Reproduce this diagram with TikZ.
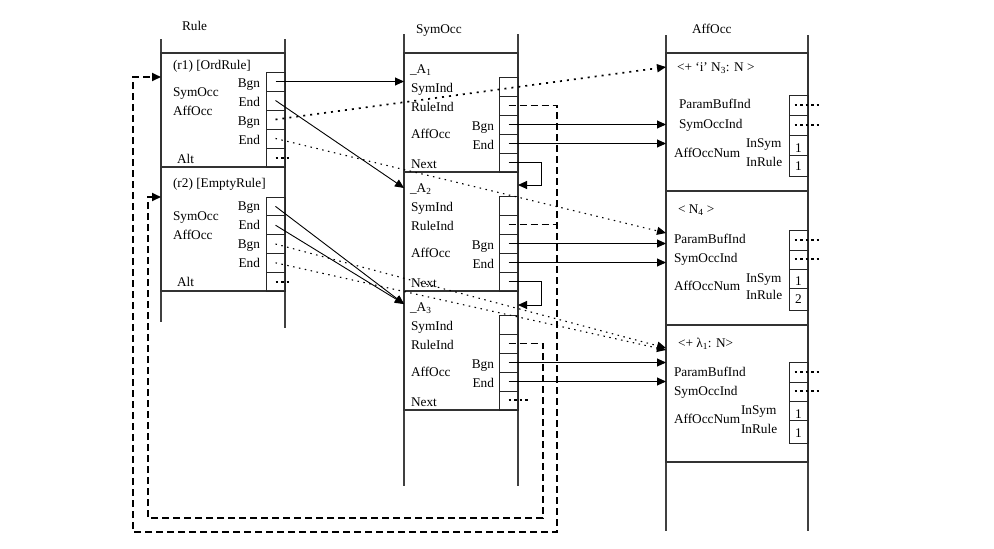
\documentclass[tikz,border=0pt]{standalone}
\usepackage{fontspec}
\setmainfont{Liberation Serif}
\usetikzlibrary{arrows.meta}
\begin{document}
\begin{tikzpicture}[x=1pt,y=-1pt,
  every node/.style={font=\fontsize{13.3}{15}\selectfont, inner sep=0pt, outer sep=0pt},
  txt/.style={anchor=base west},
  rtxt/.style={anchor=base east},
  num/.style={anchor=base},
  colline/.style={line width=1.1pt, draw=black!75},
  rec/.style={rectangle, draw=black!80, line width=1.1pt},
  fld/.style={rectangle, draw=black!85, line width=1pt, minimum width=19pt, minimum height=#1},
  tip/.style={-{Triangle[length=9pt,width=8pt]}},
  ptr/.style={tip, line width=0.9pt},
  hdot/.style={tip, line width=1.7pt, dash pattern=on 2pt off 5pt},
  fdot/.style={tip, line width=1.1pt, dash pattern=on 1.5pt off 4.5pt},
  rptr/.style={tip, line width=1.9pt, dash pattern=on 7pt off 4pt},
  tail/.style={line width=2pt, dash pattern=on 2.5pt off 3pt},
]
\useasboundingbox (0,0) rectangle (994,549);

% ---------- column titles and column lines ----------
\node[txt] (tRule) at (182,30) {Rule};
\node[txt] (tSym)  at (416,33) {SymOcc};
\node[txt] (tAff)  at (692,33) {AffOcc};

\draw[colline] (161,39) -- (161,322);
\draw[colline] (285,39) -- (285,328);
\draw[colline] (404,34) -- (404,486);
\draw[colline] (518,34) -- (518,486);
\draw[colline] (666,35) -- (666,531);
\draw[colline] (808,35) -- (808,531);

% ---------- records ----------
\node[rec, minimum width=124pt, minimum height=114pt] (r1) at (223,110) {};
\node[rec, minimum width=124pt, minimum height=124pt] (r2) at (223,229) {};
\node[rec, minimum width=114pt, minimum height=119pt] (A1) at (461,112.5) {};
\node[rec, minimum width=114pt, minimum height=119pt] (A2) at (461,231.5) {};
\node[rec, minimum width=114pt, minimum height=119pt] (A3) at (461,350.5) {};
\node[rec, minimum width=142pt, minimum height=138pt] (P1) at (737,122) {};
\node[rec, minimum width=142pt, minimum height=134pt] (P2) at (737,258) {};
\node[rec, minimum width=142pt, minimum height=137pt] (P3) at (737,393.5) {};

% ---------- Rule records ----------
\foreach \i/\y in {1/81.5,2/100.5,3/119.5,4/138.5,5/157.5}
  \node[fld=19pt] (r1f\i) at (275.5,\y) {};
\foreach \i/\y in {1/206.4,2/225.2,3/244,4/262.8,5/281.6}
  \node[fld=18.8pt] (r2f\i) at (275.5,\y) {};

\node[txt] (r1h) at (173,69) {(r1) [OrdRule]};
\node[txt] (r1s) at (173,96) {SymOcc};
\node[txt] (r1a) at (173,115) {AffOcc};
\node[rtxt] (r1l1) at (260,87) {Bgn};
\node[rtxt] (r1l2) at (260,106) {End};
\node[rtxt] (r1l3) at (260,125) {Bgn};
\node[rtxt] (r1l4) at (260,144) {End};
\node[txt] (r1alt) at (177,163) {Alt};

\node[txt] (r2h) at (173,187) {(r2) [EmptyRule]};
\node[txt] (r2s) at (173,220) {SymOcc};
\node[txt] (r2a) at (173,239) {AffOcc};
\node[rtxt] (r2l1) at (260,210) {Bgn};
\node[rtxt] (r2l2) at (260,229) {End};
\node[rtxt] (r2l3) at (260,248) {Bgn};
\node[rtxt] (r2l4) at (260,267) {End};
\node[txt] (r2alt) at (177,286) {Alt};

% ---------- SymOcc records ----------
\foreach \r/\o/\n in {a1/0/1, a2/119/2, a3/238/3} {
  \foreach \i/\y in {1/86.5,2/105.5,3/124.5,4/143.5,5/162.5}
    \node[fld=19pt] (\r f\i) at (508.5,\y+\o) {};
  \node[txt] (\r h)  at (410,73+\o) {\_A\textsubscript{\n}};
  \node[txt] (\r s)  at (411,92+\o) {SymInd};
  \node[txt] (\r r)  at (411,111+\o) {RuleInd};
  \node[txt] (\r a)  at (411,138+\o) {AffOcc};
  \node[rtxt] (\r b) at (494,130+\o) {Bgn};
  \node[rtxt] (\r e) at (494,149+\o) {End};
  \node[txt] (\r n)  at (411,168+\o) {Next};
}

% ---------- AffOcc records ----------
\node[fld=20pt] (p1f1) at (798.5,105) {};
\node[fld=20pt] (p1f2) at (798.5,125) {};
\node[fld=20pt] (p1f3) at (798.5,145) {};
\node[fld=21pt] (p1f4) at (798.5,165.5) {};
\node[txt] (p1h) at (677,71) {<+ ‘i’ N\textsubscript{3}: N >};
\node[txt] (p1p) at (679,108) {ParamBufInd};
\node[txt] (p1s) at (679,128) {SymOccInd};
\node[txt] (p1n) at (674,157) {AffOccNum};
\node[txt] (p1is) at (746,147) {InSym};
\node[txt] (p1ir) at (746,166) {InRule};
\node[num] (p1v1) at (798.5,152) {1};
\node[num] (p1v2) at (798.5,170) {1};

\node[fld=20pt] (p2f1) at (798.5,240) {};
\node[fld=19pt] (p2f2) at (798.5,259.5) {};
\node[fld=19pt] (p2f3) at (798.5,278.5) {};
\node[fld=22pt] (p2f4) at (798.5,299) {};
\node[txt] (p2h) at (678,213) {< N\textsubscript{4} >};
\node[txt] (p2p) at (674,243) {ParamBufInd};
\node[txt] (p2s) at (674,262) {SymOccInd};
\node[txt] (p2n) at (674,290) {AffOccNum};
\node[txt] (p2is) at (746,282) {InSym};
\node[txt] (p2ir) at (746,299) {InRule};
\node[num] (p2v1) at (798.5,285) {1};
\node[num] (p2v2) at (798.5,303) {2};

\node[fld=20pt] (p3f1) at (798.5,372) {};
\node[fld=19pt] (p3f2) at (798.5,391.5) {};
\node[fld=19pt] (p3f3) at (798.5,410.5) {};
\node[fld=23pt] (p3f4) at (798.5,431.5) {};
\node[txt] (p3h) at (678,347) {<+ λ\textsubscript{1}: N>};
\node[txt] (p3p) at (674,376) {ParamBufInd};
\node[txt] (p3s) at (674,395) {SymOccInd};
\node[txt] (p3n) at (674,423) {AffOccNum};
\node[txt] (p3is) at (741,414) {InSym};
\node[txt] (p3ir) at (741,433) {InRule};
\node[num] (p3v1) at (798.5,418) {1};
\node[num] (p3v2) at (798.5,437) {1};

% ---------- Rule -> SymOcc ----------
\draw[ptr] (r1f1.center) -- (r1f1.center -| A1.west);
\draw[ptr] (r1f2.center) -- (A2.west |- 0,188);
\draw[ptr] (r2f1.center) -- (A3.west |- 0,304);
\draw[ptr] (r2f2.center) -- (A3.west |- 0,304);

% ---------- Rule -> AffOcc ----------
\draw[hdot] (r1f3.center) -- (P1.west |- 0,67);
\draw[fdot] (r1f4.center) -- (P2.west |- 0,233);
\draw[fdot] (r2f3.center) -- (P3.west |- 0,348);
\draw[fdot] (r2f4.center) -- (P3.west |- 0,350);

% unused Alt links
\draw[tail] ([yshift=-0.5pt]r1f5.center) -- ++(15,0);
\draw[tail] ([yshift=-0.4pt]r2f5.center) -- ++(15,0);

% ---------- SymOcc -> AffOcc ----------
\draw[ptr] (a1f3.center) -- (a1f3.center -| P1.west);
\draw[ptr] (a1f4.center) -- (a1f4.center -| P1.west);
\draw[ptr] (a2f3.center) -- (a2f3.center -| P2.west);
\draw[ptr] (a2f4.center) -- (a2f4.center -| P2.west);
\draw[ptr] (a3f3.center) -- (a3f3.center -| P3.west);
\draw[ptr] (a3f4.center) -- (a3f4.center -| P3.west);

% ---------- Next links ----------
\draw[ptr] (a1f5.center) -| (541,185) -- (A2.east |- 0,185);
\draw[ptr] (a2f5.center) -| (541,305) -- (A3.east |- 0,305);
\draw[tail] ([yshift=0.5pt]a3f5.center) -- ++(19,0);

% ---------- RuleInd back links ----------
\coordinate (oBR) at (557,532);
\coordinate (oBL) at (133,532);
\coordinate (iBR) at (543,518);
\coordinate (iBL) at (148,518);
\draw[rptr] (a1f2.center) -| (oBR) -- (oBL) |- (r1.west |- 0,77);
\draw[rptr, -] (a2f2.center) -- (a2f2.center -| oBR);
\draw[rptr] (a3f2.center) -| (iBR) -- (iBL) |- (r2.west |- 0,197);

% ---------- open AffOcc links ----------
\foreach \f in {p1f1,p1f2,p2f1,p3f1}
  \draw[tail] ([xshift=-4pt]\f.center) -- ++(26,0);
\foreach \f in {p2f2,p3f2}
  \draw[tail] ([xshift=-4pt,yshift=0.5pt]\f.center) -- ++(26,0);

\end{tikzpicture}
\end{document}
